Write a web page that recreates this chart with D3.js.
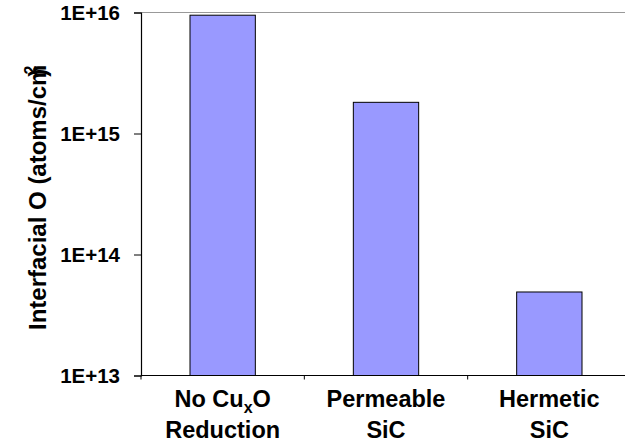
<!DOCTYPE html>
<html>
<head>
<meta charset="utf-8">
<script src="https://cdn.jsdelivr.net/npm/d3@7"></script>
<style>
  html, body { margin: 0; padding: 0; background: #fff; overflow: hidden; }
  text { font-family: Arial, "Liberation Sans", sans-serif; font-weight: bold; fill: #000; }
</style>
</head>
<body>
<svg id="chart" width="625" height="443"></svg>
<script>
// Interfacial oxygen per surface treatment (atoms/cm^2)
const categories = ["noReduction", "permeable", "hermetic"];
const values = [9.5e15, 1.81e15, 4.9e13];
// Two-line category labels; sub marks a subscript run
const categoryLines = [
  [[{t: "No Cu"}, {t: "x", sub: true}, {t: "O"}], [{t: "Reduction"}]],
  [[{t: "Permeable"}], [{t: "SiC"}]],
  [[{t: "Hermetic"}], [{t: "SiC"}]]
];
const yTicks = [1e13, 1e14, 1e15, 1e16];
const yTickLabels = ["1E+13", "1E+14", "1E+15", "1E+16"];

const svg = d3.select("#chart");
const margin = {left: 141, top: 12.5, right: 631, bottom: 375.5};

const x = d3.scaleBand().domain(categories).range([margin.left, margin.right]).padding(0);
const y = d3.scaleLog().domain([1e13, 1e16]).range([margin.bottom, margin.top]);
const barW = x.bandwidth() * 0.4;

// gridline at the top decade
svg.append("line")
  .attr("x1", margin.left).attr("x2", margin.right)
  .attr("y1", y(1e16)).attr("y2", y(1e16))
  .attr("stroke", "#999").attr("stroke-width", 1);

// bars
svg.append("g").selectAll("rect").data(categories).join("rect")
  .attr("x", (d) => x(d) + (x.bandwidth() - barW) / 2)
  .attr("width", barW)
  .attr("y", (d, i) => y(values[i]))
  .attr("height", (d, i) => y(1e13) - y(values[i]))
  .attr("fill", "#9999FF")
  .attr("stroke", "#000").attr("stroke-width", 1);

// y axis
const yAxis = d3.axisLeft(y).tickValues(yTicks)
  .tickFormat((d, i) => yTickLabels[i]).tickSize(7).tickPadding(14);
const gy = svg.append("g").attr("transform", `translate(${margin.left},0)`).call(yAxis);
gy.select(".domain").attr("stroke", "#000").attr("stroke-width", 1.2);
gy.selectAll(".tick line").attr("stroke", "#000");
gy.selectAll(".tick text").style("font-size", "20.5px").attr("fill", "#000");

// x axis baseline with boundary ticks
svg.append("line")
  .attr("x1", margin.left).attr("x2", margin.right)
  .attr("y1", y(1e13)).attr("y2", y(1e13))
  .attr("stroke", "#000").attr("stroke-width", 1.2);
const bounds = categories.map((d) => x(d)).concat([margin.right]);
svg.append("g").selectAll("line").data(bounds).join("line")
  .attr("x1", (d) => d).attr("x2", (d) => d)
  .attr("y1", y(1e13)).attr("y2", y(1e13) + 4)
  .attr("stroke", "#000");

// category labels
const lineY = [407, 437.5];
categories.forEach((c, i) => {
  categoryLines[i].forEach((runs, li) => {
    const t = svg.append("text")
      .attr("x", x(c) + x.bandwidth() / 2)
      .attr("y", lineY[li])
      .attr("text-anchor", "middle")
      .style("font-size", "23.5px");
    runs.forEach((r) => {
      if (r.sub) {
        t.append("tspan").attr("dy", 6).style("font-size", "16px").text(r.t);
      } else {
        const s = t.append("tspan").text(r.t);
        if (runs.some((q) => q.sub) && r !== runs[0]) s.attr("dy", -6);
      }
    });
  });
});

// y axis title; the closing parenthesis tucks in over the superscript
const yt = svg.append("text")
  .attr("transform", "translate(46,330) rotate(-90)")
  .attr("text-anchor", "start")
  .style("font-size", "24px");
yt.append("tspan").text("Interfacial O (atoms/cm");
yt.append("tspan").attr("dy", -10).attr("dx", -10).style("font-size", "16px").text("2");
yt.append("tspan").attr("dy", 10).attr("dx", -11).text(")");
</script>
</body>
</html>
